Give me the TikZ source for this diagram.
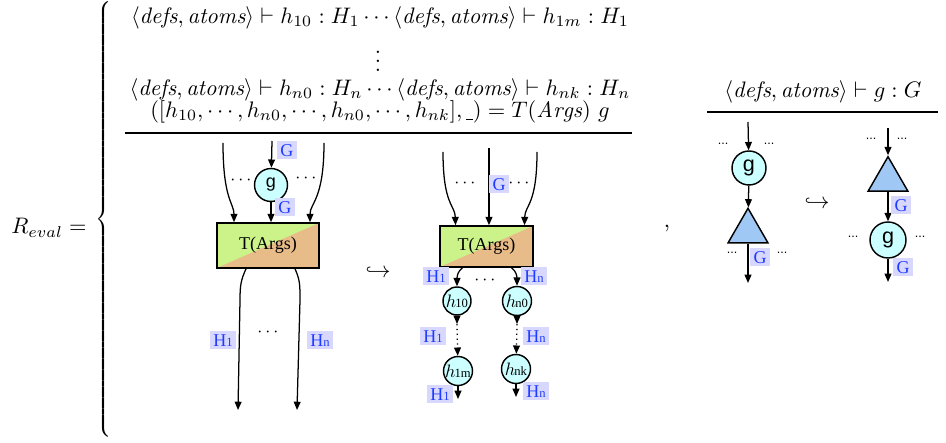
\documentclass[tikz,border=0pt]{standalone}
\usepackage{fontspec}
\newfontfamily\tms{Liberation Serif}
\newfontfamily\hlv{Liberation Sans}
\usetikzlibrary{shapes.geometric,arrows.meta,calc}
\def\pu{0.555pt}
\definecolor{cy}{RGB}{204,255,255}
\definecolor{tri}{RGB}{160,200,245}
\definecolor{lab}{RGB}{216,216,255}
\definecolor{labt}{RGB}{30,60,255}
\definecolor{tg}{RGB}{204,242,138}
\definecolor{tt}{RGB}{232,188,136}
\newcommand{\Hl}[1]{H{\scriptsize #1}}
\newcommand{\hsub}[1]{$h$\kern-0.5pt{\tms\scriptsize #1}}
\newcommand{\blank}{\rule[-0.8pt]{3pt}{0.4pt}}
\begin{document}
\begin{tikzpicture}[x=0.555pt,y=-0.555pt,
  edge/.style={line width=0.7pt,-{Triangle[length=4.6pt,width=3.8pt]}},
  lbl/.style={fill=lab,text=labt,font=\tms,inner xsep=2pt,inner ysep=1.3pt,text height=7pt,text depth=0pt},
  circ/.style={circle,draw,fill=cy,line width=0.8pt,inner sep=0pt,minimum size=33*\pu},
  tribox/.style={regular polygon,regular polygon sides=3,draw,fill=tri,line width=0.8pt,inner sep=0pt,minimum size=46*\pu},
  tbox/.style={draw,line width=0.9pt,fill=tg,font=\tms,inner sep=0pt,
    path picture={\fill[tt] (path picture bounding box.south west) -- (path picture bounding box.north east) -- (path picture bounding box.south east) -- cycle;}},
  dots/.style={font=\hlv\scriptsize,inner sep=0pt},
  txt/.style={inner sep=0pt},
  bracestyle/.style={inner sep=0pt,yscale=1.033},
  mtxt/.style={inner sep=0pt,scale=1.245}]
\useasboundingbox (0,0) rectangle (946,443);

% left side
\node[mtxt] (reval) at (49,228) {$R_{eval} =$};
\node[bracestyle] (lbrace) at (105,221) {$\left\{\vrule height 116pt depth 116pt width 0pt\right.$};
\node[bracestyle] (rbrace) at (951,221) {$\left.\vrule height 116pt depth 116pt width 0pt\right\}$};

% premises
\node[mtxt] (p1) at (380,18) {$\langle \mathit{defs},\mathit{atoms}\rangle \vdash h_{10} : H_1 \cdots \langle \mathit{defs},\mathit{atoms}\rangle \vdash h_{1m} : H_1$};
\node[mtxt] (p2) at (378,55) {$\vdots$};
\node[mtxt] (p3) at (380,90) {$\langle \mathit{defs},\mathit{atoms}\rangle \vdash h_{n0} : H_n \cdots \langle \mathit{defs},\mathit{atoms}\rangle \vdash h_{nk} : H_n$};
\node[mtxt] (p4) at (380,112) {$([h_{10},\cdots,h_{n0},\cdots,h_{n0},\cdots,h_{nk}],\blank) = T(\mathit{Args})\ g$};
\coordinate (r1a) at (125,133);
\coordinate (r1b) at (632,133);
\draw[line width=0.6pt] (r1a) -- (r1b);

% ---------- left diagram
\node[tbox,minimum width=102*\pu,minimum height=45*\pu] (T1) at (268,245.5) {T(Args)};
\node[circ,font=\hlv] (g1) at (271,185) {g};
\coordinate (L1) at (223,143);
\coordinate (C1) at (272,141);
\coordinate (R1) at (324,143);
\draw[edge] (L1) .. controls (223,200) and (234,203) .. ($(T1.north)+(-34,0)$);
\draw[edge] (C1) -- (g1);
\draw[edge] (g1) -- (g1 |- T1.north);
\draw[edge] (R1) .. controls (324,200) and (310,203) .. ($(T1.north)+(42,0)$);
\node[lbl] (G1a) at (287,150) {G};
\node[lbl] (G1b) at (285,207) {G};
\node[txt] (d1a) at (241,180) {$\cdots$};
\node[txt] (d1b) at (306,178) {$\cdots$};
\coordinate (B1) at (238,410);
\coordinate (B2) at (297,410);
\draw[edge] ($(T1.south)+(-22,0)$) .. controls (241,280) and (240,285) .. (240,300) -- (B1);
\draw[edge] ($(T1.south)+(27,0)$) .. controls (300,280) and (300,285) .. (300,300) -- (B2);
\node[lbl] (H1a) at (223,340) {\Hl{1}};
\node[lbl] (Hna) at (320,340) {\Hl{n}};
\node[txt] (d1c) at (268,332) {$\cdots$};

\node[mtxt] (hook1) at (378,272) {$\hookrightarrow$};

% ---------- middle diagram
\node[tbox,minimum width=93*\pu,minimum height=41*\pu] (T2) at (486.5,246.5) {T(Args)};
\coordinate (L2) at (443,152);
\coordinate (C2) at (489,148);
\coordinate (R2) at (537,152);
\draw[edge] (L2) .. controls (443,205) and (455,205) .. ($(T2.north)+(-31,0)$);
\draw[edge] (C2) -- (C2 |- T2.north);
\draw[edge] (R2) .. controls (537,205) and (525,205) .. ($(T2.north)+(38,0)$);
\node[txt] (d2a) at (465,183) {$\cdots$};
\node[lbl] (G2) at (499,184) {G};
\node[txt] (d2b) at (519,183) {$\cdots$};

\node[circ,minimum size=28*\pu] (h10) at (457,301) {\hsub{10}};
\node[circ,minimum size=29*\pu] (hn0) at (517,301) {\hsub{n0}};
\node[circ,minimum size=29*\pu] (h1m) at (458,371) {\hsub{1m}};
\node[circ,minimum size=29*\pu] (hnk) at (516,369) {\hsub{nk}};
\draw[edge] ($(T2.south)+(-24,0)$) .. controls (458,271) and (457,276) .. (h10);
\draw[edge] ($(T2.south)+(25,0)$) .. controls (516,271) and (517,276) .. (hn0);
\node[lbl] (H1b) at (436,276) {\Hl{1}};
\node[lbl] (Hnb) at (534,276) {\Hl{n}};
\node[txt] (d2c) at (485,280) {$\cdots$};
\coordinate (m1) at (457,324);
\coordinate (m2) at (517,324);
\draw[edge] (h10) -- (m1);
\draw[edge,dotted] (m1) -- (h1m);
\draw[edge] (hn0) -- (m2);
\draw[edge,dotted] (m2) -- (hnk);
\node[lbl] (H1c) at (433,336) {\Hl{1}};
\node[lbl] (Hnc) at (536,336) {\Hl{n}};
\coordinate (E1) at (458,399);
\coordinate (E2) at (516,397);
\draw[edge] (h1m) -- (E1);
\draw[edge] (hnk) -- (E2);
\node[lbl] (H1d) at (440,394) {\Hl{1}};
\node[lbl] (Hnd) at (536,391) {\Hl{n}};

\node[mtxt] (comma) at (667,228) {,};

% ---------- right rule
\node[mtxt] (q1) at (823,92) {$\langle \mathit{defs},\mathit{atoms}\rangle \vdash g : G$};
\coordinate (r2a) at (707,112);
\coordinate (r2b) at (938,112);
\draw[line width=0.6pt] (r2a) -- (r2b);

% left small diagram
\coordinate (S1) at (748,122);
\node[circ,minimum size=34*\pu,font=\hlv\large] (g3) at (749,168) {g};
\node[tribox] (t1) at (748,231.3) {};
\coordinate (S2) at (748,283);
\draw[edge] (S1) -- (g3);
\draw[edge] (g3) -- (t1);
\draw[edge] (t1) -- (S2);
\node[dots] (d3a) at (723,144) {...};
\node[dots] (d3b) at (769,144) {...};
\node[dots] (d3c) at (732,253) {...};
\node[dots] (d3d) at (782,253) {...};
\node[lbl] (G3) at (760,257) {G};

\node[mtxt] (hook2) at (817,203) {$\hookrightarrow$};

% right small diagram
\coordinate (S3) at (888,128);
\node[tribox] (t2) at (888,179.7) {};
\node[circ,minimum size=36*\pu,font=\hlv\large] (g4) at (888,240) {g};
\coordinate (S4) at (888,282);
\draw[edge] (S3) -- (t2);
\draw[edge] (t2) -- (g4);
\draw[edge] (g4) -- (S4);
\node[dots] (d4a) at (871,139) {...};
\node[dots] (d4b) at (902,139) {...};
\node[dots] (d4c) at (853,237) {...};
\node[dots] (d4d) at (920,237) {...};
\node[lbl] (G4a) at (901,205) {G};
\node[lbl] (G4b) at (903,267) {G};
\end{tikzpicture}
\end{document}
